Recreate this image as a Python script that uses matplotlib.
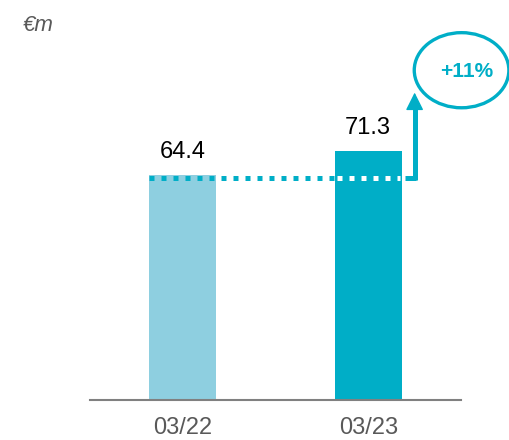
import matplotlib.pyplot as plt
from matplotlib.patches import Ellipse

# data
periods = ["03/22", "03/23"]
values = [64.4, 71.3]
growth_label = "+11%"
unit_label = "€m"

light = "#8ecfe0"
teal = "#00aec7"
grey = "#595959"

plt.rcParams['font.family'] = ['Liberation Sans', 'DejaVu Sans']

fig = plt.figure(figsize=(5.1, 4.4), dpi=100)
ax = fig.add_axes([90 / 510, 40 / 440, 371 / 510, 400 / 440])

xs = range(len(values))
bw = 0.36
ax.bar(xs, values, width=bw, color=[light, teal], zorder=2)

ax.set_xlim(-0.5, 1.5)
ax.set_ylim(0, 114.5)

# value labels above bars
for x, v in zip(xs, values):
    ax.annotate(f"{v:.1f}", (x, v), xytext=(0, 12), textcoords="offset points",
                ha="center", va="baseline", fontsize=17, color="black")

# dotted reference line at first value (white where it crosses the 2nd bar)
x_turn = 1.25
y_ref = values[0] - 0.8
b2_left, b2_right = 1 - bw / 2, 1 + bw / 2
dot = dict(lw=3.6, dashes=(1, 1.4), solid_capstyle="butt",
           dash_capstyle="butt", zorder=3)
ax.plot([-bw / 2, b2_left], [y_ref, y_ref], color=teal, **dot)
ax.plot([b2_left + 0.01, b2_right - 0.01], [y_ref, y_ref], color="white", **dot)
ax.plot([b2_right + 0.02, x_turn + 0.005], [y_ref, y_ref], color=teal, lw=3.6,
        solid_capstyle="butt", zorder=3)
# arrow up
ax.plot([x_turn, x_turn], [y_ref - 0.7, 84], color=teal, lw=3.6,
        solid_capstyle="butt", zorder=3)
ax.annotate("", xy=(x_turn, 88), xytext=(x_turn, 83.5),
            arrowprops=dict(arrowstyle="-|>,head_length=1.1,head_width=0.55",
                            color=teal, lw=1, shrinkA=0, shrinkB=0),
            annotation_clip=False, zorder=3)

# growth bubble
ell = Ellipse((1.503, 94.4), 0.51, 21.5, fill=False, edgecolor=teal, lw=2.4,
              clip_on=False, zorder=3)
ax.add_patch(ell)
ax.text(1.53, 94.0, growth_label, ha="center", va="center", fontsize=15,
        fontweight="bold", color=teal, clip_on=False)

# axes styling
for s in ["top", "right", "left"]:
    ax.spines[s].set_visible(False)
ax.spines["bottom"].set_color("#808080")
ax.spines["bottom"].set_linewidth(1.5)
ax.set_yticks([])
ax.set_xticks(list(xs))
ax.set_xticklabels(periods, fontsize=17, color=grey)
ax.tick_params(axis="x", length=0, pad=12.5)

fig.text(23 / 510, 1 - 31 / 440, unit_label, fontsize=16, style="italic",
         color=grey, ha="left", va="baseline")

fig.savefig("out.png", dpi=100)
